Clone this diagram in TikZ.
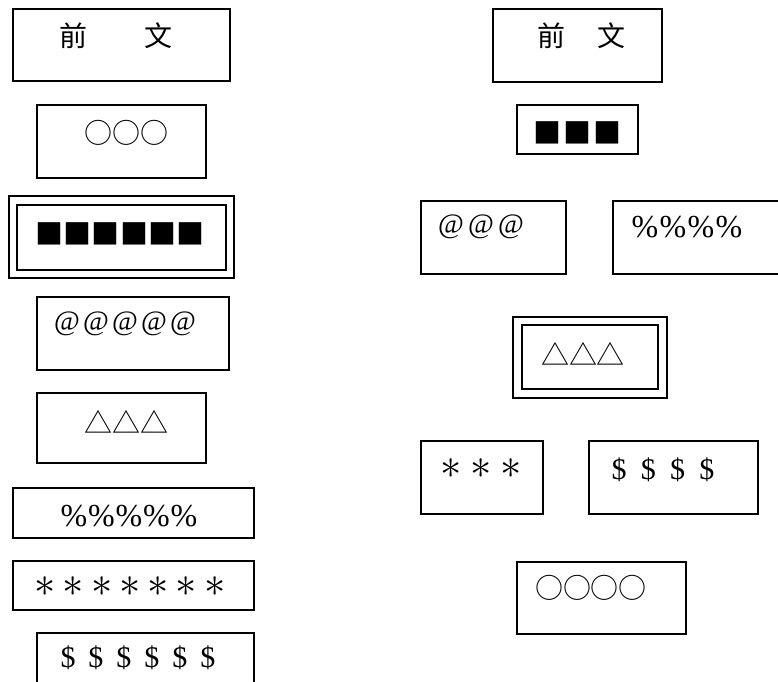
\documentclass[tikz,border=0pt]{standalone}
\usepackage{fontspec}
\setmainfont{Liberation Serif}
\newfontfamily\cjk{Noto Sans CJK SC}
\newcommand\cell[2]{\makebox[#1pt]{#2}}
\newcommand\bigast{\scalebox{2.05}{$\ast$}}
\tikzset{
  box/.style={draw, line width=1.8pt, inner sep=0pt, outer sep=0pt},
  txt/.style={inner sep=0pt, anchor=center},
  cj/.style={txt, font=\cjk\fontsize{28}{28}\selectfont},
  sym/.style={txt, font=\cjk\fontsize{28}{28}\selectfont},
  ser/.style={txt, font=\fontsize{30}{30}\selectfont},
  atsym/.style={txt, font=\fontsize{28}{28}\selectfont},
  pct/.style={txt, font=\fontsize{32}{32}\selectfont},
  ast/.style={txt, font=\fontsize{20}{20}\selectfont},
}
\newcommand\bx[5]{\node[box, minimum width={#4-#2}, minimum height={#5-#3}] (#1) at ({(#2+#4)/2},{(#3+#5)/2}) {};}
\begin{document}
\begin{tikzpicture}[x=1pt,y=-1pt]
\clip (0,0) rectangle (778,681);
\fill[white] (0,0) rectangle (778,681);
% ---- left column ----
\bx{L1}{13}{9}{230}{81}
\node[cj] (L1a) at (73.5,36) {前};
\node[cj] (L1b) at (158.5,36) {文};
\bx{L2}{37}{105}{206}{178}
\node[sym] (L2t) at (126.5,133) {\cell{27.7}{○}\cell{27.7}{○}\cell{27.7}{○}};
\bx{L3o}{9}{196}{234}{278}
\bx{L3i}{17}{205}{226}{270}
\node[sym] (L3t) at (120,233.5) {\cell{28.2}{■}\cell{28.2}{■}\cell{28.2}{■}\cell{28.2}{■}\cell{28.2}{■}\cell{28.2}{■}};
\bx{L4}{37}{297}{229}{370}
\node[atsym] (L4t) at (125,324) {\cell{29}{@}\cell{29}{@}\cell{29}{@}\cell{29}{@}\cell{29}{@}};
\bx{L5}{37}{393}{206}{463}
\node[sym] (L5t) at (126.5,422) {\cell{27.7}{△}\cell{27.7}{△}\cell{27.7}{△}};
\bx{L6}{13}{488}{254}{538}
\node[pct] (L6t) at (129,516) {\cell{27.5}{\%}\cell{27.5}{\%}\cell{27.5}{\%}\cell{27.5}{\%}\cell{27.5}{\%}};
\bx{L7}{13}{561}{254}{610}
\node[ast] (L7t) at (130,587) {\cell{28.3}{\bigast}\cell{28.3}{\bigast}\cell{28.3}{\bigast}\cell{28.3}{\bigast}\cell{28.3}{\bigast}\cell{28.3}{\bigast}\cell{28.3}{\bigast}};
\bx{L8}{37}{633}{254}{720}
\node[ser] (L8t) at (138,658) {\cell{28}{\$}\cell{28}{\$}\cell{28}{\$}\cell{28}{\$}\cell{28}{\$}\cell{28}{\$}};
% ---- right column ----
\bx{R1}{493}{9}{662}{82}
\node[cj] (R1a) at (551.5,36) {前};
\node[cj] (R1b) at (611,36) {文};
\bx{R2}{517}{105}{638}{154}
\node[sym] (R2t) at (577.5,132.5) {\cell{30}{■}\cell{30}{■}\cell{30}{■}};
\bx{R3}{421}{201}{566}{274}
\node[atsym] (R3t) at (481,226.5) {\cell{30}{@}\cell{30}{@}\cell{30}{@}};
\bx{R4}{613}{201}{820}{274}
\node[pct] (R4t) at (687,227.5) {\cell{28}{\%}\cell{28}{\%}\cell{28}{\%}\cell{28}{\%}};
\bx{R5o}{513}{317}{667}{398}
\bx{R5i}{522}{325}{658}{389}
\node[sym] (R5t) at (583,354) {\cell{27.3}{△}\cell{27.3}{△}\cell{27.3}{△}};
\bx{R6}{421}{441}{543}{514}
\node[ast] (R6t) at (481.5,469) {\cell{30}{\bigast}\cell{30}{\bigast}\cell{30}{\bigast}};
\bx{R7}{589}{441}{758}{514}
\node[ser] (R7t) at (663,469.5) {\cell{29.3}{\$}\cell{29.3}{\$}\cell{29.3}{\$}\cell{29.3}{\$}};
\bx{R8}{517}{562}{686}{634}
\node[sym] (R8t) at (591,588) {\cell{27.5}{○}\cell{27.5}{○}\cell{27.5}{○}\cell{27.5}{○}};
\end{tikzpicture}
\end{document}
